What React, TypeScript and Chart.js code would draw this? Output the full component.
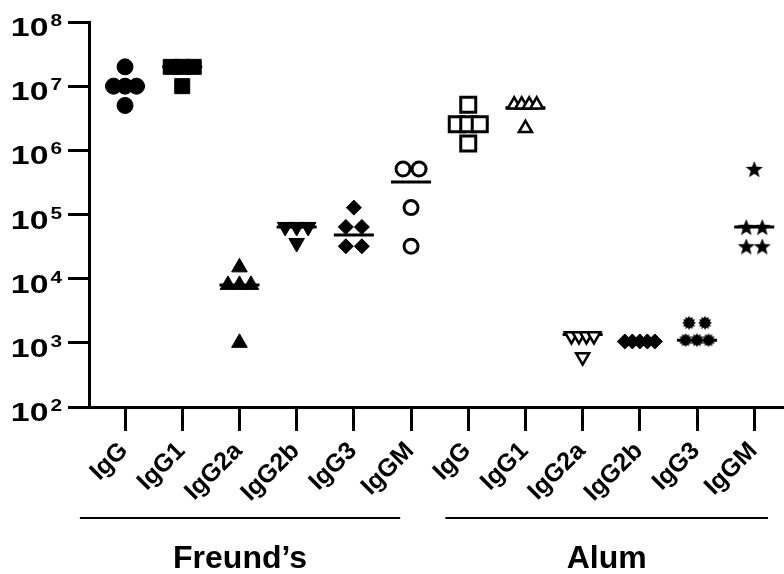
import React, { useEffect, useRef } from "react";
import { Chart, registerables } from "chart.js";

Chart.register(...registerables);

// ---------- data ----------
const groups = ["Freund’s", "Alum"];
const isotypes = ["IgG", "IgG1", "IgG2a", "IgG2b", "IgG3", "IgGM"];
const categories = [...isotypes, ...isotypes];
const yTickExponents = [2, 3, 4, 5, 6, 7, 8];

const freundIgG = [2e7, 1e7, 1e7, 1e7, 5e6];
const freundIgG1 = [2e7, 2e7, 2e7, 1e7];
const freundIgG2a = [1.5e4, 8e3, 8e3, 8e3, 1e3];
const freundIgG2b = [6.4e4, 6.4e4, 6.4e4, 3.6e4];
const freundIgG3 = [1.28e5, 6.4e4, 6.4e4, 3.2e4, 3.2e4];
const freundIgGM = [5.12e5, 5.12e5, 1.28e5, 3.2e4];
const alumIgG = [5.12e6, 2.56e6, 2.56e6, 2.56e6, 1.28e6];
const alumIgG1 = [5.12e6, 5.12e6, 5.12e6, 5.12e6, 2.2e6];
const alumIgG2a = [1.28e3, 1.28e3, 1.28e3, 1.28e3, 6e2];
const alumIgG2b = [1.05e3, 1.05e3, 1.05e3, 1.05e3, 1.05e3];
const alumIgG3 = [2.05e3, 2.05e3, 1.1e3, 1.1e3, 1.1e3];
const alumIgGM = [5.12e5, 6.4e4, 6.4e4, 3.2e4, 3.2e4];

const seriesValues = [
  freundIgG, freundIgG1, freundIgG2a, freundIgG2b, freundIgG3, freundIgGM,
  alumIgG, alumIgG1, alumIgG2a, alumIgG2b, alumIgG3, alumIgGM,
];
const medians = [1e7, 2e7, 8e3, 6.4e4, 4.8e4, 3.2e5, 2.56e6, 4.6e6, 1.35e3, 1.05e3, 1.1e3, 6.4e4];

// ---------- styling ----------
const FONT = "'Liberation Sans', Arial, Helvetica, sans-serif";
const PX_PER_CAT = 57.2;
const X_MIN = -0.63;
const X_MAX = 11.52;
const GROUP_SPANS = [
  [-0.79, 4.81],
  [5.6, 11.24],
];

function makeStar(size: number) {
  const c = document.createElement("canvas");
  c.width = size;
  c.height = size;
  const g = c.getContext("2d")!;
  g.fillStyle = "#000";
  g.beginPath();
  const R = size / 2;
  const r = R * 0.42;
  for (let i = 0; i < 10; i++) {
    const a = -Math.PI / 2 + (i * Math.PI) / 5;
    const rr = i % 2 ? r : R;
    g.lineTo(R + rr * Math.cos(a), R + size * 0.05 + rr * Math.sin(a));
  }
  g.closePath();
  g.fill();
  return c;
}

function makeBurst(size: number) {
  const c = document.createElement("canvas");
  c.width = size;
  c.height = size;
  const g = c.getContext("2d")!;
  g.fillStyle = "#000";
  g.beginPath();
  const R = size / 2;
  const n = 24;
  for (let i = 0; i < n; i++) {
    const a = (i * 2 * Math.PI) / n;
    const rr = i % 2 ? R * 0.7 : R;
    g.lineTo(R + rr * Math.cos(a), R + rr * Math.sin(a));
  }
  g.closePath();
  g.fill();
  return c;
}

function spread(values: number[]) {
  const counts = new Map<number, number>();
  values.forEach((v) => counts.set(v, (counts.get(v) || 0) + 1));
  const seen = new Map<number, number>();
  return values.map((v) => {
    const n = counts.get(v)!;
    const k = seen.get(v) || 0;
    seen.set(v, k + 1);
    const s = n === 2 ? 16 : n === 3 ? 11.5 : 7.5;
    return ((k - (n - 1) / 2) * s) / PX_PER_CAT;
  });
}

const decorPlugin = {
  id: "decor",
  afterDraw(chart: any) {
    const ctx = chart.ctx as CanvasRenderingContext2D;
    const ys = chart.scales.y;
    const xs = chart.scales.x;
    ctx.save();
    ctx.fillStyle = "#000";
    ctx.strokeStyle = "#000";
    // y tick labels 10^n
    const right = ys.right - 27;
    for (const e of yTickExponents) {
      const py = ys.getPixelForValue(Math.pow(10, e));
      const expStr = String(e);
      ctx.font = `bold 16px ${FONT}`;
      const ew = ctx.measureText(expStr).width * 1.3;
      ctx.save();
      ctx.translate(right - ew, py + 4);
      ctx.scale(1.3, 1);
      ctx.textAlign = "left";
      ctx.textBaseline = "alphabetic";
      ctx.fillText(expStr, 0, 0);
      ctx.restore();
      ctx.font = `bold 26px ${FONT}`;
      ctx.save();
      ctx.translate(right - ew - 2, py + 14);
      ctx.scale(1.3, 1);
      ctx.textAlign = "right";
      ctx.fillText("10", 0, 0);
      ctx.restore();
    }
    // rotated category labels
    ctx.font = `bold 25px ${FONT}`;
    categories.forEach((name, i) => {
      const px = xs.getPixelForValue(i);
      ctx.save();
      ctx.translate(px - 1, xs.top + 40);
      ctx.rotate(-Math.PI / 4);
      ctx.textAlign = "right";
      ctx.textBaseline = "middle";
      ctx.fillText(name, 0, 0);
      ctx.restore();
    });
    // group lines and labels
    ctx.lineWidth = 2;
    GROUP_SPANS.forEach((span, i) => {
      const x0 = xs.getPixelForValue(span[0]);
      const x1 = xs.getPixelForValue(span[1]);
      ctx.beginPath();
      ctx.moveTo(x0, 518);
      ctx.lineTo(x1, 518);
      ctx.stroke();
      ctx.font = `bold 32px ${FONT}`;
      ctx.textAlign = "center";
      ctx.textBaseline = "alphabetic";
      ctx.fillText(groups[i], (x0 + x1) / 2, 568);
    });
    ctx.restore();
  },
};

type Marker = {
  style: any;
  radius: number;
  rotation: number;
  fill: string;
  border: number;
};

export default function App() {
  const ref = useRef<HTMLCanvasElement>(null);
  useEffect(() => {
    document.body.style.margin = "0";
    const star = makeStar(18);
    const burst = makeBurst(14);
    const markers: Marker[] = [
      { style: "circle", radius: 8, rotation: 0, fill: "#000", border: 1 },
      { style: "rect", radius: 10.6, rotation: 0, fill: "#000", border: 1 },
      { style: "triangle", radius: 9, rotation: 0, fill: "#000", border: 1 },
      { style: "triangle", radius: 9, rotation: 180, fill: "#000", border: 1 },
      { style: "rectRot", radius: 7.5, rotation: 0, fill: "#000", border: 1 },
      { style: "circle", radius: 7, rotation: 0, fill: "#fff", border: 3 },
      { style: "rect", radius: 10.6, rotation: 0, fill: "#fff", border: 3 },
      { style: "triangle", radius: 7.5, rotation: 0, fill: "#fff", border: 2.5 },
      { style: "triangle", radius: 7.5, rotation: 180, fill: "#fff", border: 2.5 },
      { style: "rectRot", radius: 7.5, rotation: 0, fill: "#000", border: 1 },
      { style: burst, radius: 7, rotation: 0, fill: "#000", border: 0 },
      { style: star, radius: 8, rotation: 0, fill: "#000", border: 0 },
    ];

    const pointSets = seriesValues.map((vals, i) => {
      const off = spread(vals);
      const m = markers[i];
      return {
        type: "scatter" as const,
        label: categories[i],
        data: vals.map((v, k) => ({ x: i + off[k], y: v })),
        pointStyle: m.style,
        pointRadius: m.radius,
        pointRotation: m.rotation,
        pointBackgroundColor: m.fill,
        pointBorderColor: "#000",
        pointBorderWidth: m.border,
        showLine: false,
        order: 1,
        clip: false as any,
      };
    });
    const lineSets = medians.map((m, i) => ({
      type: "scatter" as const,
      label: categories[i] + " median",
      data: [
        { x: i - 0.35, y: m },
        { x: i + 0.35, y: m },
      ],
      showLine: true,
      borderColor: "#000",
      borderWidth: 3,
      pointRadius: 0,
      order: 2,
    }));

    const chart = new Chart(ref.current!, {
      type: "scatter",
      data: { datasets: [...lineSets, ...pointSets] as any },
      options: {
        animation: false,
        responsive: false,
        maintainAspectRatio: false,
        layout: { autoPadding: false, padding: { top: 22, left: 0, right: 0, bottom: 0 } },
        plugins: { legend: { display: false }, tooltip: { enabled: false } },
        scales: {
          x: {
            type: "linear",
            min: X_MIN,
            max: X_MAX,
            afterBuildTicks: (scale: any) => {
              scale.ticks = categories.map((_, i) => ({ value: i }));
            },
            afterFit: (scale: any) => {
              scale.height = 167;
              scale.paddingLeft = 0;
              scale.paddingRight = 0;
            },
            grid: {
              drawOnChartArea: false,
              drawTicks: true,
              tickLength: 24,
              tickWidth: 3,
              tickColor: "#000",
            },
            border: { display: true, width: 3, color: "#000" },
            ticks: { display: false },
          },
          y: {
            type: "logarithmic",
            min: 100,
            max: 1e8,
            afterBuildTicks: (scale: any) => {
              scale.ticks = yTickExponents.map((e) => ({ value: Math.pow(10, e) }));
            },
            afterFit: (scale: any) => {
              scale.width = 89;
              scale.paddingTop = 0;
              scale.paddingBottom = 0;
            },
            grid: {
              drawOnChartArea: false,
              drawTicks: true,
              tickLength: 21,
              tickWidth: 3,
              tickColor: "#000",
            },
            border: { display: true, width: 3, color: "#000" },
            ticks: { display: false },
          },
        },
      },
      plugins: [decorPlugin],
    } as any);
    return () => chart.destroy();
  }, []);

  return (
    <div style={{ position: "absolute", left: 0, top: 0, width: 784, height: 574, background: "#fff" }}>
      <canvas ref={ref} width={784} height={574} style={{ display: "block" }} />
    </div>
  );
}
